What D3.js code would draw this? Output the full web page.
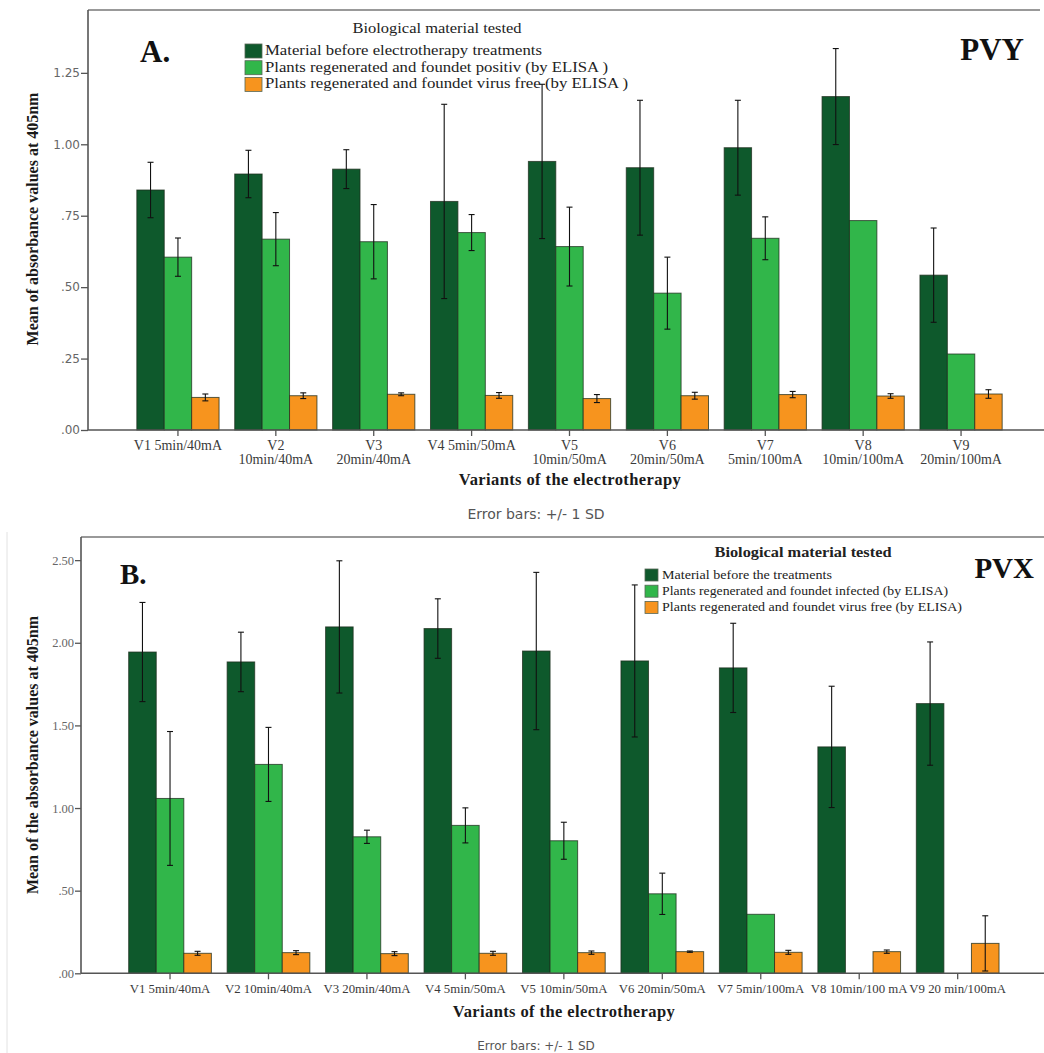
<!DOCTYPE html>
<html>
<head>
<meta charset="utf-8">
<script src="https://cdn.jsdelivr.net/npm/d3@7"></script>
<style>
  html, body { margin: 0; padding: 0; background: #fff; }
  svg { display: block; }
</style>
</head>
<body>
<svg id="chart" width="1044" height="1053"></svg>
<script>
// ---- Panel A: PVY ----
const variantsA = [
  ["V1 5min/40mA"], ["V2", "10min/40mA"], ["V3", "20min/40mA"], ["V4 5min/50mA"],
  ["V5", "10min/50mA"], ["V6", "20min/50mA"], ["V7", "5min/100mA"], ["V8", "10min/100mA"],
  ["V9", "20min/100mA"]
];
const beforeA     = [0.84, 0.896, 0.913, 0.80, 0.94, 0.918, 0.988, 1.167, 0.542];
const beforeSdA   = [0.097, 0.083, 0.068, 0.34, 0.27, 0.236, 0.166, 0.168, 0.165];
const positiveA   = [0.605, 0.668, 0.659, 0.691, 0.642, 0.479, 0.671, 0.733, 0.266];
const positiveSdA = [0.067, 0.093, 0.13, 0.063, 0.138, 0.126, 0.075, null, null];
const freeA       = [0.114, 0.120, 0.125, 0.121, 0.110, 0.120, 0.124, 0.119, 0.126];
const freeSdA     = [0.012, 0.010, 0.005, 0.010, 0.014, 0.012, 0.011, 0.008, 0.015];
const ticksA      = [0, 0.25, 0.5, 0.75, 1.0, 1.25];
const tickLabelsA = [".00", ".25", ".50", ".75", "1.00", "1.25"];
const legendA = [
  "Material before electrotherapy treatments",
  "Plants regenerated and foundet positiv (by ELISA )",
  "Plants regenerated and foundet virus free (by ELISA )"
];

// ---- Panel B: PVX ----
const variantsB = [
  "V1 5min/40mA", "V2 10min/40mA", "V3 20min/40mA", "V4 5min/50mA", "V5 10min/50mA",
  "V6 20min/50mA", "V7 5min/100mA", "V8 10min/100 mA", "V9 20 min/100mA"
];
const beforeB     = [1.944, 1.884, 2.096, 2.086, 1.95, 1.89, 1.848, 1.37, 1.632];
const beforeSdB   = [0.30, 0.18, 0.40, 0.18, 0.476, 0.46, 0.27, 0.367, 0.373];
const infectedB   = [1.058, 1.264, 0.826, 0.895, 0.802, 0.481, 0.357, null, null];
const infectedSdB = [0.405, 0.224, 0.04, 0.106, 0.112, 0.125, null, null, null];
const freeB       = [0.121, 0.125, 0.119, 0.121, 0.125, 0.131, 0.127, 0.131, 0.181];
const freeSdB     = [0.012, 0.012, 0.012, 0.012, 0.010, 0.004, 0.012, 0.010, 0.167];
const ticksB      = [0, 0.5, 1.0, 1.5, 2.0, 2.5];
const tickLabelsB = [".00", ".50", "1.00", "1.50", "2.00", "2.50"];
const legendB = [
  "Material before the treatments",
  "Plants regenerated and foundet infected (by ELISA)",
  "Plants regenerated and foundet virus free (by ELISA)"
];

const seriesColors = ["#0e592c", "#31b64a", "#f7941e"];
const serif = "'Liberation Serif', 'Times New Roman', serif";
const sans = "'DejaVu Sans', Arial, sans-serif";

const svg = d3.select("#chart");

function drawPanel(p) {
  const g = svg.append("g");
  const x = d3.scaleBand().domain(d3.range(p.labels.length))
    .range(p.xRange).paddingInner(0.16).paddingOuter(0.08);
  const sub = d3.scaleBand().domain([0, 1, 2]).range([0, x.bandwidth()]);
  const y = d3.scaleLinear().domain([0, p.yMax]).range([p.yBottom, p.yTop]);

  // frame top line
  g.append("line").attr("x1", p.axisX).attr("x2", p.frameRight)
    .attr("y1", p.yTop).attr("y2", p.yTop)
    .attr("stroke", "#777").attr("stroke-width", 1.5);

  // bars
  const series = [
    { vals: p.s0, sd: p.sd0 }, { vals: p.s1, sd: p.sd1 }, { vals: p.s2, sd: p.sd2 }
  ];
  series.forEach((s, si) => {
    const bars = s.vals.map((v, i) => ({ v, sd: s.sd[i], i })).filter(d => d.v != null);
    g.selectAll(null).data(bars).enter().append("rect")
      .attr("x", d => x(d.i) + sub(si))
      .attr("width", sub.bandwidth())
      .attr("y", d => y(d.v))
      .attr("height", d => y(0) - y(d.v))
      .attr("fill", seriesColors[si])
      .attr("stroke", "#1d2e1d").attr("stroke-opacity", 0.75).attr("stroke-width", 1);
  });
  // error bars (+/- 1 SD)
  series.forEach((s, si) => {
    const errs = s.vals.map((v, i) => ({ v, sd: s.sd[i], i }))
      .filter(d => d.v != null && d.sd != null);
    const eg = g.selectAll(null).data(errs).enter().append("g")
      .attr("stroke", "#111").attr("stroke-width", 1.1);
    const cx = d => x(d.i) + sub(si) + sub.bandwidth() / 2;
    eg.append("line").attr("x1", cx).attr("x2", cx)
      .attr("y1", d => y(d.v + d.sd)).attr("y2", d => y(Math.max(0, d.v - d.sd)));
    [1, -1].forEach(sign => {
      eg.append("line")
        .attr("x1", d => cx(d) - 3).attr("x2", d => cx(d) + 3)
        .attr("y1", d => y(Math.max(0, d.v + sign * d.sd)))
        .attr("y2", d => y(Math.max(0, d.v + sign * d.sd)));
    });
  });

  // y axis
  const yAxis = g.append("g").attr("transform", `translate(${p.axisX},0)`)
    .call(d3.axisLeft(y).tickValues(p.ticks).tickSize(p.yTickLen).tickPadding(1)
      .tickFormat((d, i) => p.tickLabels[i]));
  yAxis.select(".domain").attr("stroke", "#555").attr("stroke-width", 1.6)
    .attr("d", `M0,${p.yTop}V${p.yBottom}`);
  yAxis.selectAll(".tick line").attr("stroke", "#555").attr("stroke-width", 1.3);
  yAxis.selectAll(".tick text").attr("font-family", p.yTickFont).attr("font-size", p.yTickSize)
    .attr("fill", "#666");

  // x axis
  const xAxis = g.append("g").attr("transform", `translate(0,${p.yBottom})`)
    .call(d3.axisBottom(x).tickSize(6).tickFormat(""));
  xAxis.select(".domain").attr("stroke", "#555").attr("stroke-width", 1.6)
    .attr("d", `M${p.axisX},0H${p.xAxisEnd}`);
  xAxis.selectAll(".tick line").attr("stroke", "#555").attr("stroke-width", 1.3);
  // category labels
  p.labels.forEach((lab, i) => {
    const lines = Array.isArray(lab) ? lab : [lab];
    const t = g.append("text").attr("x", x(i) + x.bandwidth() / 2).attr("y", p.xLabelY)
      .attr("text-anchor", "middle").attr("font-family", serif)
      .attr("font-size", p.xLabelSize).attr("fill", "#3a3a3a");
    lines.forEach((ln, k) => t.append("tspan").attr("x", x(i) + x.bandwidth() / 2)
      .attr("dy", k === 0 ? 0 : p.xLabelLine).text(ln));
  });

  // axis titles
  g.append("text").attr("x", p.xTitleX).attr("y", p.xTitleY).attr("text-anchor", "middle")
    .attr("font-family", serif).attr("font-weight", "bold").attr("font-size", 16.5)
    .attr("letter-spacing", 0.4).attr("fill", "#1a1a1a")
    .text("Variants of the electrotherapy");
  g.append("text").attr("transform", `translate(${p.yTitleX},${p.yTitleY}) rotate(-90)`)
    .attr("text-anchor", "middle").attr("font-family", serif).attr("font-weight", "bold")
    .attr("font-size", 16).attr("fill", "#1a1a1a").text(p.yTitle);
  g.append("text").attr("x", 536).attr("y", p.errY).attr("text-anchor", "middle")
    .attr("font-family", sans).attr("font-size", p.errSize).attr("fill", "#555")
    .text("Error bars: +/- 1 SD");

  // panel letter and virus name
  g.append("text").attr("x", p.letterX).attr("y", p.letterY).attr("font-family", serif)
    .attr("font-weight", "bold").attr("font-size", p.bigSize).attr("fill", "#111").text(p.letter);
  g.append("text").attr("x", p.virusX).attr("y", p.virusY).attr("text-anchor", "end")
    .attr("font-family", serif).attr("font-weight", "bold").attr("font-size", p.bigSize)
    .attr("fill", "#111").text(p.virus);

  // legend
  const L = p.legend;
  g.append("text").attr("x", L.titleX).attr("y", L.titleY).attr("text-anchor", "middle")
    .attr("font-family", serif).attr("font-weight", L.titleWeight)
    .attr("font-size", L.titleSize).attr("fill", "#222")
    .attr("textLength", L.titleLen).attr("lengthAdjust", "spacingAndGlyphs")
    .text("Biological material tested");
  L.items.forEach((txt, k) => {
    g.append("rect").attr("x", L.swX).attr("y", L.swY + k * L.step)
      .attr("width", L.swW).attr("height", L.swH).attr("fill", seriesColors[k])
      .attr("stroke", "#556655").attr("stroke-width", 0.8);
    g.append("text").attr("x", L.textX).attr("y", L.textY + k * L.step)
      .attr("font-family", serif).attr("font-size", L.size).attr("fill", "#222")
      .attr("textLength", L.lens[k]).attr("lengthAdjust", "spacingAndGlyphs")
      .text(txt);
  });
}

drawPanel({
  labels: variantsA, s0: beforeA, sd0: beforeSdA, s1: positiveA, sd1: positiveSdA,
  s2: freeA, sd2: freeSdA, ticks: ticksA, tickLabels: tickLabelsA,
  xRange: [129, 1010], yMax: 1.47, yTop: 10, yBottom: 430, axisX: 88, frameRight: 1040,
  xAxisEnd: 1044, yTickLen: 7, yTickFont: sans, yTickSize: 12,
  xLabelY: 450, xLabelLine: 13.5, xLabelSize: 14,
  xTitleX: 570, xTitleY: 485, yTitleX: 38, yTitleY: 219,
  yTitle: "Mean of absorbance values at 405nm", errY: 519, errSize: 14,
  letter: "A.", letterX: 140, letterY: 62, virus: "PVY", virusX: 1024, virusY: 60, bigSize: 31,
  legend: {
    titleX: 437, titleY: 33, titleSize: 14, titleWeight: "normal", titleLen: 169,
    swX: 245, swY: 44, swW: 17, swH: 14, step: 16.7, textX: 265, textY: 55, size: 14.5,
    items: legendA, lens: [277, 343, 363]
  }
});

drawPanel({
  labels: variantsB, s0: beforeB, sd0: beforeSdB, s1: infectedB, sd1: infectedSdB,
  s2: freeB, sd2: freeSdB, ticks: ticksB, tickLabels: tickLabelsB,
  xRange: [120.8, 1006.9], yMax: 2.64, yTop: 537, yBottom: 973.3, axisX: 81, frameRight: 1044,
  xAxisEnd: 1044, yTickLen: 6, yTickFont: serif, yTickSize: 12.5,
  xLabelY: 993, xLabelLine: 0, xLabelSize: 12.8,
  xTitleX: 564, xTitleY: 1016.5, yTitleX: 38, yTitleY: 755,
  yTitle: "Mean of the absorbance values at 405nm", errY: 1050, errSize: 12,
  letter: "B.", letterX: 120, letterY: 584, virus: "PVX", virusX: 1034, virusY: 578, bigSize: 29,
  legend: {
    titleX: 803, titleY: 556.5, titleSize: 14, titleWeight: "bold", titleLen: 177,
    swX: 645, swY: 569, swW: 13, swH: 12, step: 16.2, textX: 662, textY: 579, size: 13,
    items: legendB, lens: [170, 286, 300]
  }
});

// thin rule at the left of the lower panel
svg.append("line").attr("x1", 7).attr("x2", 7).attr("y1", 532).attr("y2", 1053)
  .attr("stroke", "#e2e2e2").attr("stroke-width", 1);
</script>
</body>
</html>
